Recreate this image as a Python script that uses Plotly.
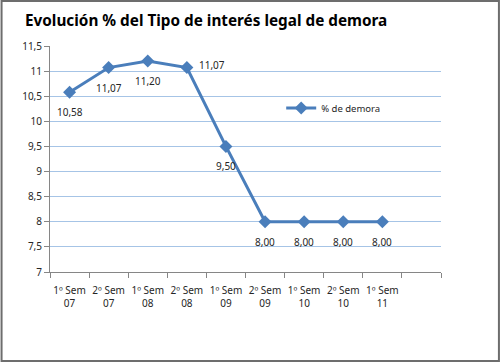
import plotly.graph_objects as go

categories = ["1º Sem<br>07", "2º Sem<br>07", "1º Sem<br>08", "2º Sem<br>08", "1º Sem<br>09",
              "2º Sem<br>09", "1º Sem<br>10", "2º Sem<br>10", "1º Sem<br>11", " "]
values = [10.58, 11.07, 11.20, 11.07, 9.50, 8.00, 8.00, 8.00, 8.00, None]
labels = ["10,58", "11,07", "11,20", "11,07", "9,50", "8,00", "8,00", "8,00", "8,00", ""]
label_side = ["below", "below", "below", "right", "below", "below", "below", "below", "below", "below"]
y_ticks = [7, 7.5, 8, 8.5, 9, 9.5, 10, 10.5, 11, 11.5]
y_ticktext = ["7", "7,5", "8", "8,5", "9", "9,5", "10", "10,5", "11", "11,5"]

W, H = 500, 362
L, R, T, B = 49.5, 59, 46, 90
pw, ph = W - L - R, H - T - B

def px(x):
    return (x - L) / pw

def py(y):
    return (H - B - y) / ph

fig = go.Figure()
fig.add_trace(go.Scatter(
    x=categories, y=values, mode="lines+markers", name="% de demora",
    line=dict(color="#4a7ebb", width=3),
    marker=dict(symbol="diamond", size=10, color="#4a7ebb"),
    cliponaxis=False,
))

annotations = []
for c, v, t, s in zip(categories, values, labels, label_side):
    if v is None:
        continue
    if s == "right":
        annotations.append(dict(x=c, y=v, text=t, showarrow=False, xanchor="left",
                                yanchor="middle", xshift=10, yshift=3))
    else:
        annotations.append(dict(x=c, y=v, text=t, showarrow=False, xanchor="center",
                                yanchor="middle", yshift=-20))

fig.update_layout(
    width=W, height=H,
    margin=dict(l=L, r=R, t=T, b=B, autoexpand=False),
    paper_bgcolor="white", plot_bgcolor="white",
    font=dict(family="Noto Sans", size=10, color="#262626"),
    title=dict(text="<b>Evolución % del Tipo de interés legal de demora</b>",
               x=25 / W, xanchor="left", xref="container", y=1 - 21 / H, yanchor="middle",
               font=dict(family="Noto Sans", size=15.3, color="black")),
    showlegend=True,
    legend=dict(x=px(281), y=py(108), xanchor="left", yanchor="middle",
                bgcolor="rgba(0,0,0,0)", font=dict(size=9.5, color="#262626"),
                itemwidth=30),
    annotations=annotations,
    xaxis=dict(type="category", tickson="boundaries", range=[-0.5, 9.5],
               showgrid=False, showline=True, linecolor="#868686", linewidth=1,
               ticks="outside", ticklen=5, tickcolor="#868686", tickangle=0,
               automargin=False, ticklabelstandoff=9,
               tickfont=dict(size=10, color="#262626")),
    yaxis=dict(range=[7, 11.5], tickvals=y_ticks, ticktext=y_ticktext,
               showgrid=True, gridcolor="#a6c4e6", gridwidth=1,
               showline=True, linecolor="#868686", linewidth=1,
               ticks="outside", ticklen=5, tickcolor="#868686", automargin=False,
               zeroline=False, tickfont=dict(size=10, color="#262626")),
    shapes=[dict(type="rect", xref="paper", yref="paper",
                 x0=px(1), x1=px(499), y0=py(361), y1=py(1),
                 line=dict(color="#6d6d6d", width=2), layer="below")],
)

fig.write_html("out.html", config={"displayModeBar": False},
               post_script="document.body.style.margin='0';")
